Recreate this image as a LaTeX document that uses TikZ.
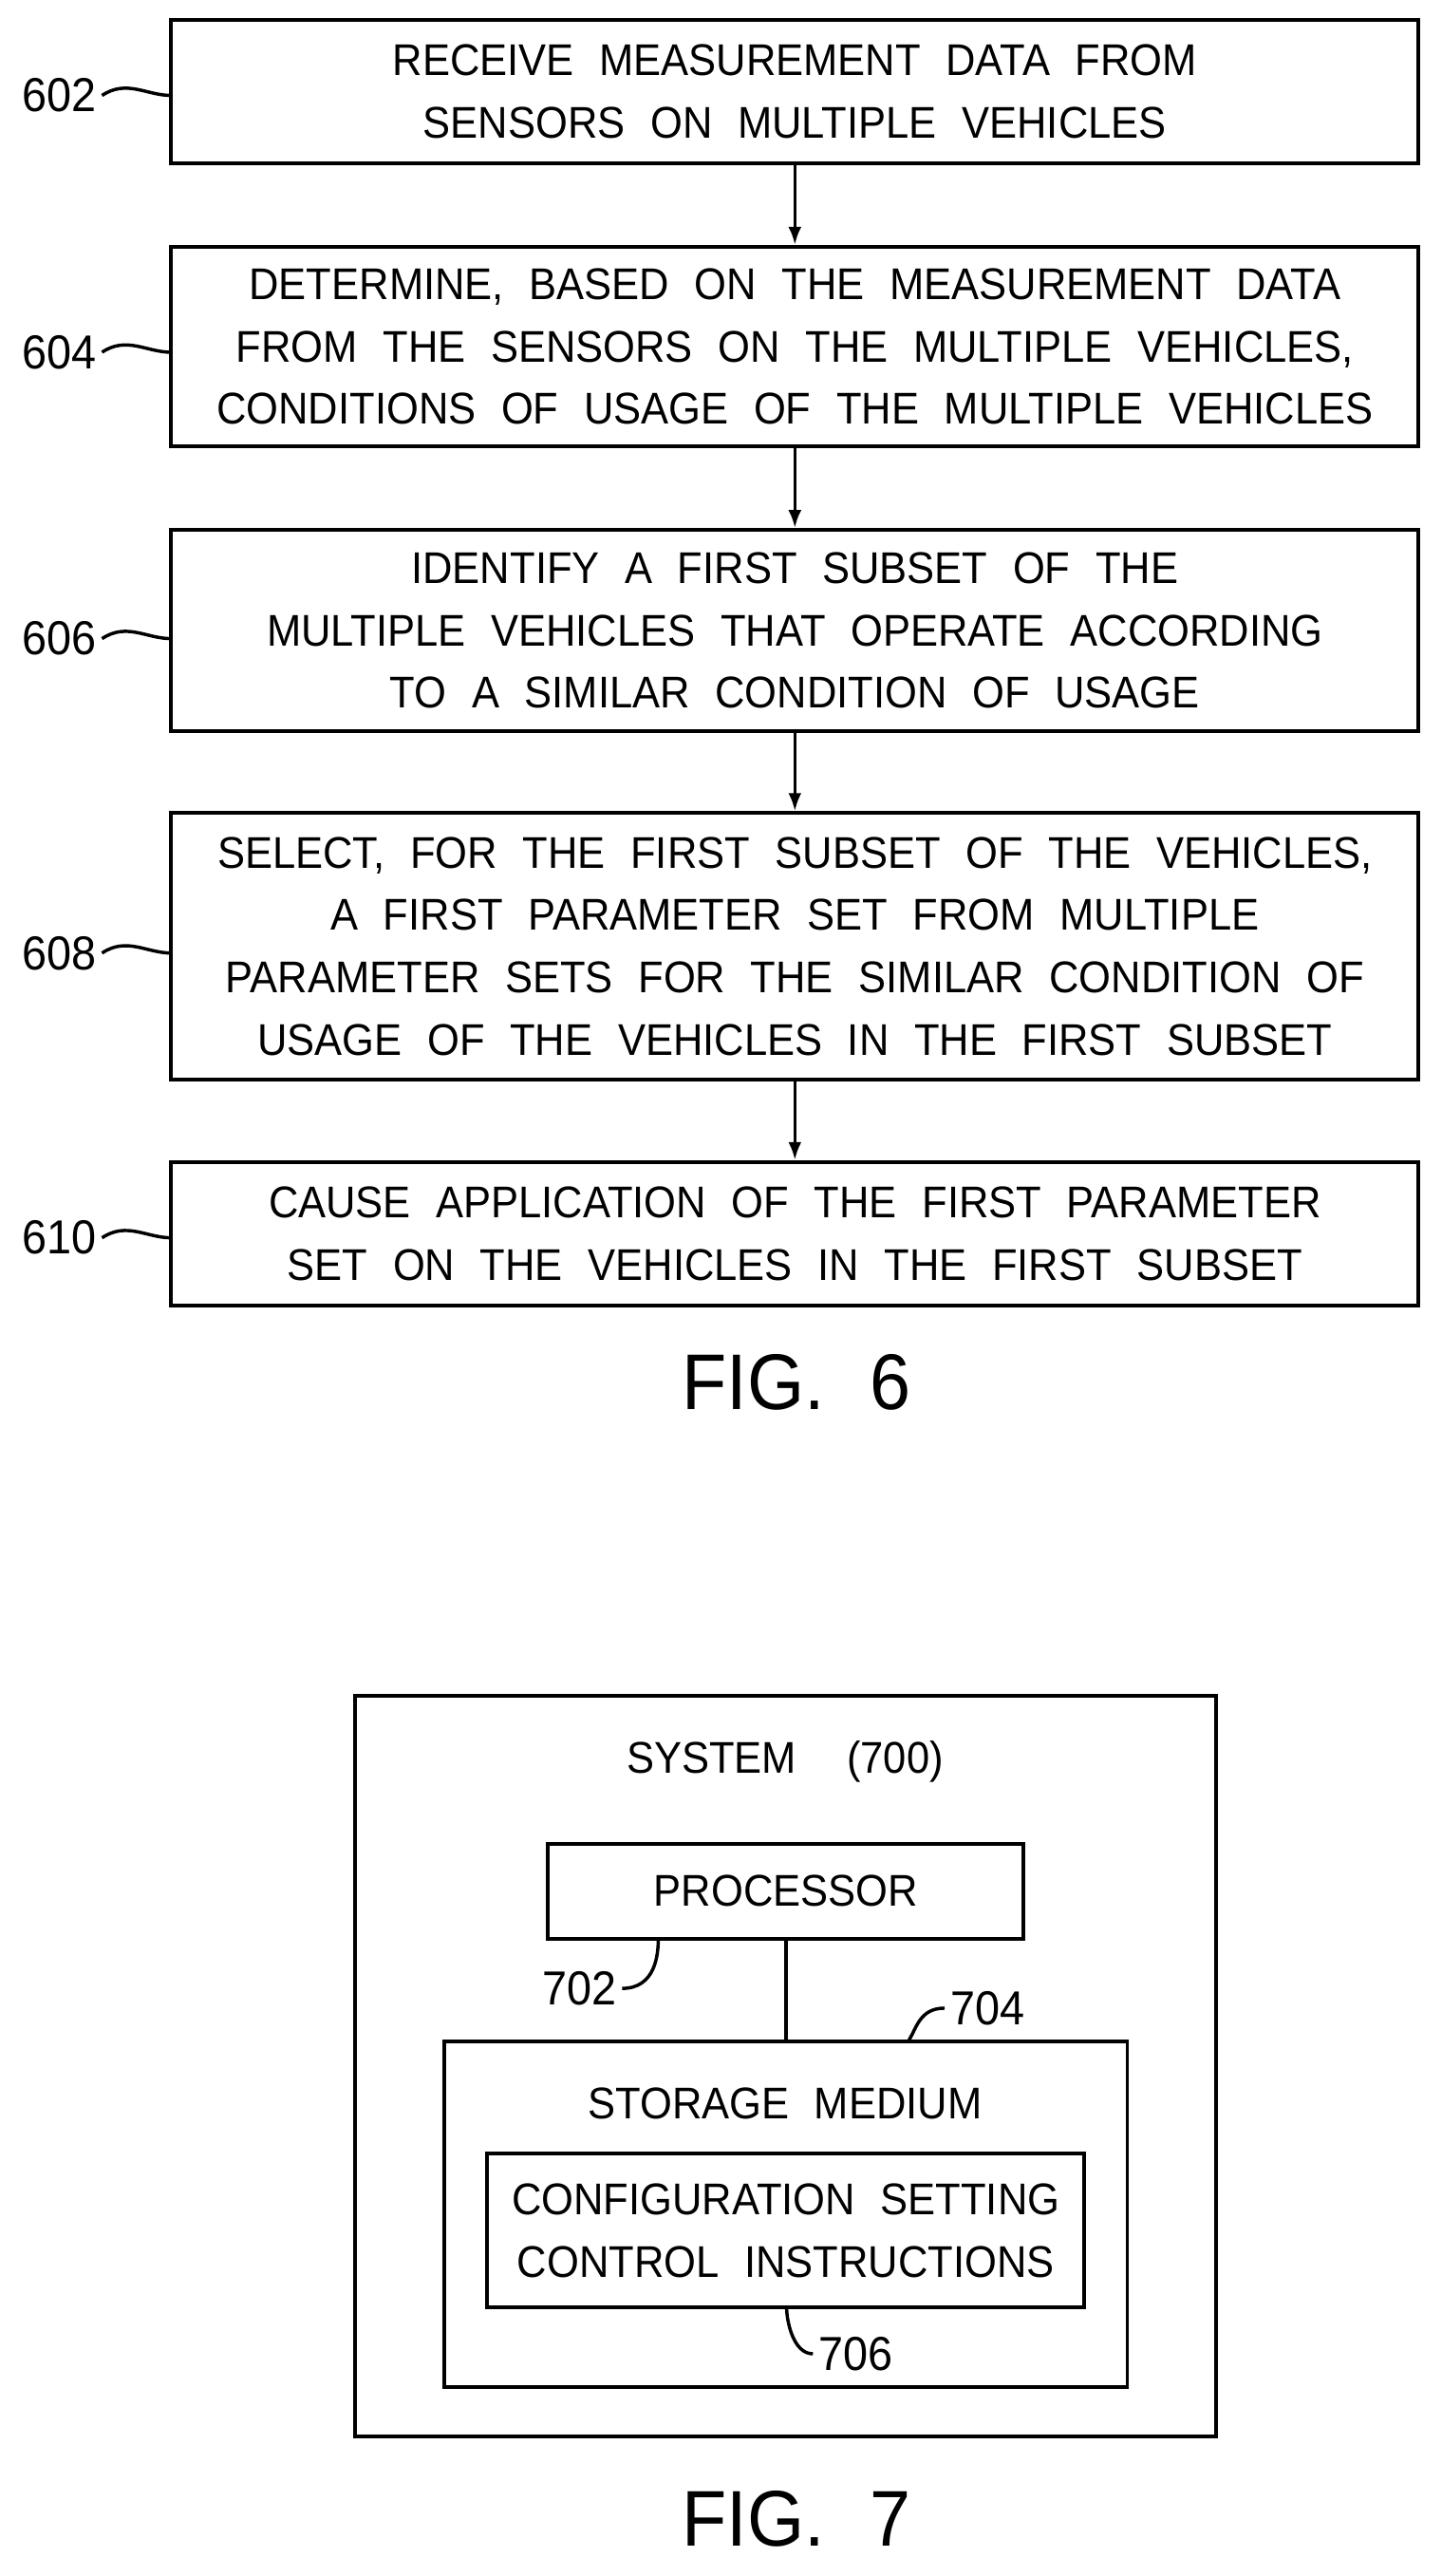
\documentclass[tikz,border=0pt]{standalone}
\usepackage{fontspec}
\usetikzlibrary{arrows.meta}
\setmainfont{Liberation Sans}[FakeStretch=0.93,WordSpace=2.2]
\begin{document}
\begin{tikzpicture}[x=1pt,y=-1pt,
 box/.style={draw,line width=2.3pt,inner sep=0pt},
 txt/.style={font=\fontsize{27}{38}\selectfont,align=center},
 lab/.style={font=\fontsize{29}{30}\selectfont,anchor=east},
 ln/.style={line width=2pt},
 arr/.style={line width=2pt,-{Latex[length=11pt,width=8pt]}}]
\useasboundingbox (0,0) rectangle (876,1565);
% Fig 6 boxes
\node[box,minimum width=758,minimum height=87] (b602) at (483,55.5) {};
\node[txt] at (b602) {RECEIVE MEASUREMENT DATA FROM\\SENSORS ON MULTIPLE VEHICLES};
\node[box,minimum width=758,minimum height=121] (b604) at (483,210.5) {};
\node[txt] at (b604) {DETERMINE, BASED ON THE MEASUREMENT DATA\\FROM THE SENSORS ON THE MULTIPLE VEHICLES,\\CONDITIONS OF USAGE OF THE MULTIPLE VEHICLES};
\node[box,minimum width=758,minimum height=122] (b606) at (483,383) {};
\node[txt] at (b606) {IDENTIFY A FIRST SUBSET OF THE\\MULTIPLE VEHICLES THAT OPERATE ACCORDING\\TO A SIMILAR CONDITION OF USAGE};
\node[box,minimum width=758,minimum height=162] (b608) at (483,575) {};
\node[txt] at (b608) {SELECT, FOR THE FIRST SUBSET OF THE VEHICLES,\\A FIRST PARAMETER SET FROM MULTIPLE\\PARAMETER SETS FOR THE SIMILAR CONDITION OF\\USAGE OF THE VEHICLES IN THE FIRST SUBSET};
\node[box,minimum width=758,minimum height=87] (b610) at (483,749.5) {};
\node[txt] at (b610) {CAUSE APPLICATION OF THE FIRST PARAMETER\\SET ON THE VEHICLES IN THE FIRST SUBSET};
\draw[arr] (b602) -- (b604);
\draw[arr] (b604) -- (b606);
\draw[arr] (b606) -- (b608);
\draw[arr] (b608) -- (b610);
\foreach \n/\y in {602/58,604/214,606/388,608/579,610/752}{
 \node[lab] (l\n) at (62,\y) {\n};
 \coordinate (c\n) at (104,\y);
 \draw[ln] (l\n.east) .. controls ++(15,-10) and ++(-15,0) .. (c\n);
}
\node[font=\fontsize{48}{50}\selectfont] (f6) at (484,840) {FIG. 6};
% Fig 7
\node[box,minimum width=523,minimum height=450] (sys) at (477.5,1255) {};
\node[txt] (st) at (477,1070) {SYSTEM\ \ (700)};
\node[box,minimum width=289,minimum height=58] (proc) at (477.5,1149) {};
\node[txt] at (proc) {PROCESSOR};
\node[box,minimum width=415,minimum height=210] (stor) at (477.5,1345) {};
\node[txt] at (477,1278) {STORAGE MEDIUM};
\node[box,minimum width=363,minimum height=94] (conf) at (477.5,1355) {};
\node[txt] at (conf) {CONFIGURATION SETTING\\CONTROL INSTRUCTIONS};
\draw[ln] (proc) -- (stor);
\node[font=\fontsize{29}{30}\selectfont] (l702) at (352,1208) {702};
\draw[ln] (l702.east) .. controls ++(20,0) and ++(0,10) .. (400,1178);
\node[font=\fontsize{29}{30}\selectfont] (l704) at (600,1220) {704};
\draw[ln] (l704.west) .. controls ++(-15,0) and ++(5,-8) .. (552,1240);
\node[font=\fontsize{29}{30}\selectfont] (l706) at (520,1430) {706};
\draw[ln] (l706.west) .. controls ++(-12,0) and ++(0,8) .. (478,1402);
\node[font=\fontsize{48}{50}\selectfont] (f7) at (484,1530) {FIG. 7};
\end{tikzpicture}
\end{document}
